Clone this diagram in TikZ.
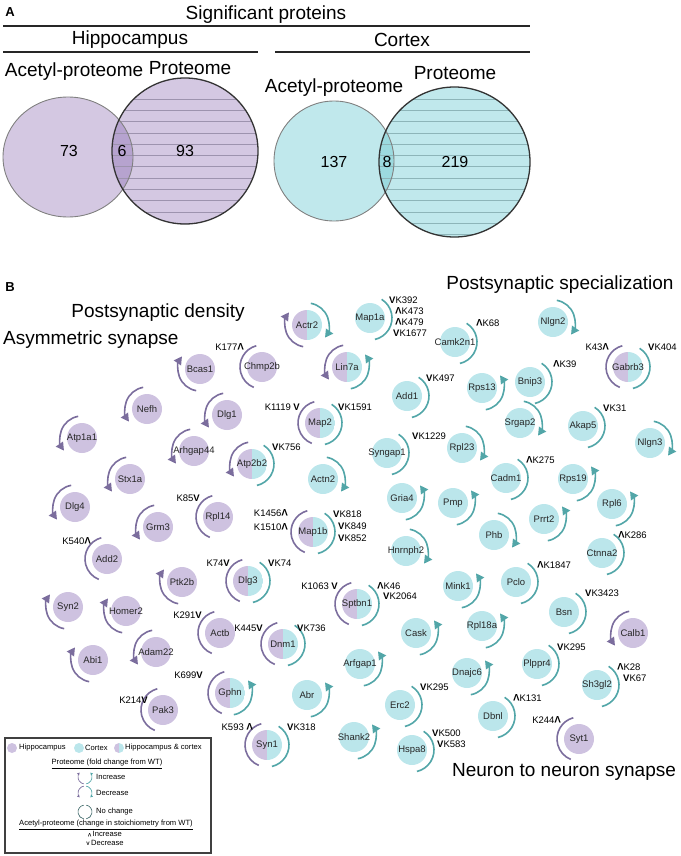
\documentclass[tikz,border=0pt]{standalone}
\usepackage{fontspec}
\setmainfont{Liberation Sans}
\usepackage{graphicx}
\usetikzlibrary{arrows.meta}
\definecolor{hfill}{HTML}{CEC2E0}
\definecolor{cfill}{HTML}{BBE6EB}
\definecolor{harc}{HTML}{7B6D9D}
\definecolor{carc}{HTML}{52A6A8}
\definecolor{vh}{HTML}{D4C8E2}
\definecolor{vho}{HTML}{B6A3CF}
\definecolor{vc}{HTML}{C0E8EC}
\definecolor{vco}{HTML}{9CDADF}
\definecolor{sth}{HTML}{9D93AE}
\definecolor{stc}{HTML}{8DB5B9}
\newcommand\up{\rotatebox[origin=c]{180}{\textbf{V}}}
\newcommand\dn{\textbf{V}}
\newcommand\nm[1]{\makebox[0pt]{#1}}
\newcommand\ArcLinc[1]{\draw[harcs,arrowtip] ([shift={(260:22)}]#1.center) arc[start angle=260,end angle=145,radius=22];}
\newcommand\ArcLdec[1]{\draw[harcs,arrowtip] ([shift={(100:22)}]#1.center) arc[start angle=100,end angle=215,radius=22];}
\newcommand\ArcLno[1]{\draw[harcs] ([shift={(105:22)}]#1.center) arc[start angle=105,end angle=248,radius=22];}
\newcommand\ArcRinc[1]{\draw[carcs,arrowtip] ([shift={(-80:22)}]#1.center) arc[start angle=-80,end angle=35,radius=22];}
\newcommand\ArcRdec[1]{\draw[carcs,arrowtip] ([shift={(80:22)}]#1.center) arc[start angle=80,end angle=-35,radius=22];}
\newcommand\ArcRno[1]{\draw[carcs] ([shift={(58:22)}]#1.center) arc[start angle=58,end angle=-77,radius=22];}
\begin{document}
\begin{tikzpicture}[x=1pt,y=1pt,
  hdr/.style={inner sep=0pt,font=\fontsize{19}{19}\selectfont},
  num/.style={inner sep=0pt,font=\fontsize{16}{16}\selectfont},
  rule/.style={line width=1.1pt,black!85},
  hn/.style={circle,minimum size=30pt,inner sep=0pt,fill=hfill,text=black!85,font=\fontsize{9.5}{10}\selectfont},
  cn/.style={circle,minimum size=30pt,inner sep=0pt,fill=cfill,text=black!85,font=\fontsize{9.5}{10}\selectfont},
  hcn/.style={circle,minimum size=30pt,inner sep=0pt,text=black!85,font=\fontsize{9.5}{10}\selectfont,
    path picture={\fill[hfill] (path picture bounding box.south west) rectangle (path picture bounding box.north);
                  \fill[cfill] (path picture bounding box.south) rectangle (path picture bounding box.north east);}},
  lab/.style={inner sep=0pt,font=\fontsize{9.5}{10}\selectfont},
  harcs/.style={draw=harc,line width=1.6pt},
  carcs/.style={draw=carc,line width=1.6pt},
  arrowtip/.style={-{Triangle[length=8pt,width=8.5pt]}},
  leg/.style={inner sep=0pt,font=\fontsize{7.6}{8}\selectfont},
]
\useasboundingbox (0,0) rectangle (680,-856);

% ---------------- Part A ----------------
\node[font=\bfseries\fontsize{13}{13}\selectfont,inner sep=0pt] (A) at (10,-12) {A};
\node[hdr] (sig) at (266,-15) {Significant proteins};
\draw[rule] (3,-26) -- (530,-26);
\node[hdr] (hip) at (130,-40) {Hippocampus};
\draw[rule] (3,-52) -- (258,-52);
\node[hdr] (ctx) at (402,-40) {Cortex};
\draw[rule] (275,-52) -- (530,-52);

\node[hdr] (acH) at (74,-72) {Acetyl-proteome};
\node[hdr] (prH) at (190,-68) {Proteome};
\node[hdr] (acC) at (334,-88) {Acetyl-proteome};
\node[hdr] (prC) at (455,-73) {Proteome};

% hippocampus Venn
\fill[vh] (68,-157) ellipse [x radius=65,y radius=60];
\fill[vh] (185,-151) ellipse [x radius=73,y radius=73];
\begin{scope}
  \clip (68,-157) ellipse [x radius=65,y radius=60];
  \fill[vho] (185,-151) ellipse [x radius=73,y radius=73];
\end{scope}
\begin{scope}
  \clip (185,-151) ellipse [x radius=73,y radius=73];
  \foreach \k in {0,...,12} \draw[sth,line width=0.8pt] (100,{-99-11.3*\k}) -- (270,{-99-11.3*\k});
\end{scope}
\draw[black!50,line width=0.9pt] (68,-157) ellipse [x radius=65,y radius=60];
\draw[black!80,line width=1.3pt] (185,-151) ellipse [x radius=73,y radius=73];

% cortex Venn
\fill[vc] (334,-161) ellipse [x radius=60,y radius=60];
\fill[vc] (454.5,-162) ellipse [x radius=75.5,y radius=75];
\begin{scope}
  \clip (334,-161) ellipse [x radius=60,y radius=60];
  \fill[vco] (454.5,-162) ellipse [x radius=75.5,y radius=75];
\end{scope}
\begin{scope}
  \clip (454.5,-162) ellipse [x radius=75.5,y radius=75];
  \foreach \k in {0,...,13} \draw[stc,line width=0.8pt] (370,{-99-11.3*\k}) -- (540,{-99-11.3*\k});
\end{scope}
\draw[black!50,line width=0.9pt] (334,-161) ellipse [x radius=60,y radius=60];
\draw[black!80,line width=1.3pt] (454.5,-162) ellipse [x radius=75.5,y radius=75];

\node[num] (n73) at (69,-151) {73};
\node[num] (n6) at (122,-151) {6};
\node[num] (n93) at (185,-151) {93};
\node[num] (n137) at (334,-162) {137};
\node[num] (n8) at (387,-162) {8};
\node[num] (n219) at (455,-162) {219};

% ---------------- Part B ----------------
\node[font=\bfseries\fontsize{13}{13}\selectfont,inner sep=0pt] (B) at (10,-287) {B};
\node[hdr] (psd) at (158,-313) {Postsynaptic density};
\node[hdr,anchor=west] (asy) at (3,-340) {Asymmetric synapse};
\node[hdr] (pss) at (560,-285) {Postsynaptic specialization};
\node[hdr] (nns) at (564,-772) {Neuron to neuron synapse};

% hippocampus nodes
\node[hn] (Chmp2b) at (262,-367) {\nm{Chmp2b}};
\node[hn] (Bcas1) at (200,-369) {\nm{Bcas1}};
\node[hn] (Nefh) at (147,-409) {\nm{Nefh}};
\node[hn] (Dlg1) at (227,-415) {\nm{Dlg1}};
\node[hn] (Atp1a1) at (82,-438) {\nm{Atp1a1}};
\node[hn] (Arhgap44) at (194,-451) {\nm{Arhgap44}};
\node[hn] (Stx1a) at (130,-479) {\nm{Stx1a}};
\node[hn] (Dlg4) at (75,-507) {\nm{Dlg4}};
\node[hn] (Rpl14) at (218,-517) {\nm{Rpl14}};
\node[hn] (Grm3) at (158,-527) {\nm{Grm3}};
\node[hn] (Add2) at (107,-559) {\nm{Add2}};
\node[hn] (Ptk2b) at (182,-582) {\nm{Ptk2b}};
\node[hn] (Syn2) at (68,-607) {\nm{Syn2}};
\node[hn] (Homer2) at (126,-611) {\nm{Homer2}};
\node[hn] (Actb) at (220,-633) {\nm{Actb}};
\node[hn] (Abi1) at (93,-660) {\nm{Abi1}};
\node[hn] (Adam22) at (156,-652) {\nm{Adam22}};
\node[hn] (Pak3) at (163,-710) {\nm{Pak3}};
\node[hn] (Calb1) at (633,-633) {\nm{Calb1}};
\node[hn] (Syt1) at (579,-739) {\nm{Syt1}};

% hippocampus & cortex nodes
\node[hcn] (Actr2) at (307,-325) {\nm{Actr2}};
\node[hcn] (Lin7a) at (347,-367) {\nm{Lin7a}};
\node[hcn] (Map2) at (320,-423) {\nm{Map2}};
\node[hcn] (Atp2b2) at (252,-464) {\nm{Atp2b2}};
\node[hcn] (Map1b) at (313,-532) {\nm{Map1b}};
\node[hcn] (Dlg3) at (248,-581) {\nm{Dlg3}};
\node[hcn] (Sptbn1) at (357,-604) {\nm{Sptbn1}};
\node[hcn] (Dnm1) at (283,-644) {\nm{Dnm1}};
\node[hcn] (Gphn) at (230,-693) {\nm{Gphn}};
\node[hcn] (Syn1) at (267,-745) {\nm{Syn1}};
\node[hcn] (Gabrb3) at (628,-367) {\nm{Gabrb3}};

% cortex nodes
\node[cn] (Map1a) at (370,-318) {\nm{Map1a}};
\node[cn] (Camk2n1) at (455,-342) {\nm{Camk2n1}};
\node[cn] (Nlgn2) at (553,-322) {\nm{Nlgn2}};
\node[cn] (Bnip3) at (530,-382) {\nm{Bnip3}};
\node[cn] (Rps13) at (482,-388) {\nm{Rps13}};
\node[cn] (Add1) at (407,-396) {\nm{Add1}};
\node[cn] (Srgap2) at (520,-423) {\nm{Srgap2}};
\node[cn] (Akap5) at (583,-426) {\nm{Akap5}};
\node[cn] (Nlgn3) at (650,-443) {\nm{Nlgn3}};
\node[cn] (Syngap1) at (387,-453) {\nm{Syngap1}};
\node[cn] (Rpl23) at (462,-448) {\nm{Rpl23}};
\node[cn] (Actn2) at (323,-479) {\nm{Actn2}};
\node[cn] (Cadm1) at (506,-478) {\nm{Cadm1}};
\node[cn] (Rps19) at (573,-479) {\nm{Rps19}};
\node[cn] (Gria4) at (402,-498) {\nm{Gria4}};
\node[cn] (Pmp) at (453,-503) {\nm{Pmp}};
\node[cn] (Rpl6) at (612,-504) {\nm{Rpl6}};
\node[cn] (Prrt2) at (544,-519) {\nm{Prrt2}};
\node[cn] (Phb) at (494,-535) {\nm{Phb}};
\node[cn] (Hnrnph2) at (406,-551) {\nm{Hnrnph2}};
\node[cn] (Ctnna2) at (602,-553) {\nm{Ctnna2}};
\node[cn] (Mink1) at (458,-586) {\nm{Mink1}};
\node[cn] (Pclo) at (516,-582) {\nm{Pclo}};
\node[cn] (Bsn) at (564,-612) {\nm{Bsn}};
\node[cn] (Cask) at (416,-633) {\nm{Cask}};
\node[cn] (Rpl18a) at (482,-626) {\nm{Rpl18a}};
\node[cn] (Arfgap1) at (360,-664) {\nm{Arfgap1}};
\node[cn] (Dnajc6) at (467,-673) {\nm{Dnajc6}};
\node[cn] (Plppr4) at (537,-664) {\nm{Plppr4}};
\node[cn] (Sh3gl2) at (597,-685) {\nm{Sh3gl2}};
\node[cn] (Abr) at (307,-695) {\nm{Abr}};
\node[cn] (Erc2) at (400,-705) {\nm{Erc2}};
\node[cn] (Dbnl) at (493,-716) {\nm{Dbnl}};
\node[cn] (Shank2) at (354,-737) {\nm{Shank2}};
\node[cn] (Hspa8) at (412,-750) {\nm{Hspa8}};

% arcs
\ArcLinc{Actr2}\ArcRdec{Actr2}
\ArcLno{Chmp2b}
\ArcLinc{Bcas1}
\ArcLdec{Nefh}
\ArcLdec{Dlg1}
\ArcLdec{Atp1a1}
\ArcLdec{Arhgap44}
\ArcLdec{Stx1a}
\ArcLdec{Dlg4}
\ArcLno{Rpl14}
\ArcLdec{Grm3}
\ArcLno{Add2}
\ArcLinc{Ptk2b}
\ArcLinc{Syn2}
\ArcLinc{Homer2}
\ArcLno{Actb}
\ArcLinc{Abi1}
\ArcLdec{Adam22}
\ArcLno{Pak3}
\ArcLdec{Calb1}
\ArcLno{Syt1}
\ArcLdec{Lin7a}\ArcRinc{Lin7a}
\ArcLno{Map2}\ArcRno{Map2}
\ArcLdec{Atp2b2}\ArcRno{Atp2b2}
\ArcLno{Map1b}\ArcRno{Map1b}
\ArcLno{Dlg3}\ArcRno{Dlg3}
\ArcLno{Sptbn1}\ArcRno{Sptbn1}
\ArcLno{Dnm1}\ArcRno{Dnm1}
\ArcLno{Gphn}\ArcRinc{Gphn}
\ArcLno{Syn1}\ArcRno{Syn1}
\ArcLno{Gabrb3}\ArcRno{Gabrb3}
\ArcRno{Map1a}
\ArcRno{Camk2n1}
\ArcRdec{Nlgn2}
\ArcRno{Bnip3}
\ArcRinc{Rps13}
\ArcRno{Add1}
\ArcRdec{Srgap2}
\ArcRno{Akap5}
\ArcRdec{Nlgn3}
\ArcRno{Syngap1}
\ArcRdec{Rpl23}
\ArcRdec{Actn2}
\ArcRno{Cadm1}
\ArcRinc{Rps19}
\ArcRinc{Gria4}
\ArcRinc{Pmp}
\ArcRinc{Rpl6}
\ArcRinc{Prrt2}
\ArcRdec{Phb}
\ArcRdec{Hnrnph2}
\ArcRno{Ctnna2}
\ArcRinc{Mink1}
\ArcRno{Pclo}
\ArcRno{Bsn}
\ArcRinc{Cask}
\ArcRinc{Rpl18a}
\ArcRinc{Arfgap1}
\ArcRinc{Dnajc6}
\ArcRno{Plppr4}
\ArcRno{Sh3gl2}
\ArcRinc{Abr}
\ArcRno{Erc2}
\ArcRno{Dbnl}
\ArcRinc{Shank2}
\ArcRno{Hspa8}

% acetylation labels
\node[lab,anchor=east] (kChmp2b) at (244,-347) {K177\up};
\node[lab,anchor=west] (kAtp2b2) at (272,-447) {\dn K756};
\node[lab,anchor=east] (kMap2a) at (300,-407) {K1119 \dn};
\node[lab,anchor=west] (kMap2b) at (338,-407) {\dn K1591};
\node[lab,anchor=west] (kMap1a1) at (389,-300) {\dn K392};
\node[lab,anchor=west] (kMap1a2) at (395,-311) {\up K473};
\node[lab,anchor=west] (kMap1a3) at (395,-322) {\up K479};
\node[lab,anchor=west] (kMap1a4) at (393,-333) {\dn K1677};
\node[lab,anchor=west] (kCamk2n1) at (476,-323) {\up K68};
\node[lab,anchor=east] (kGabrb3a) at (609,-347) {K43\up};
\node[lab,anchor=west] (kGabrb3b) at (648,-347) {\dn K404};
\node[lab,anchor=west] (kBnip3) at (553,-364) {\up K39};
\node[lab,anchor=west] (kAdd1) at (426,-378) {\dn K497};
\node[lab,anchor=west] (kAkap5) at (603,-408) {\dn K31};
\node[lab,anchor=west] (kSyngap1) at (412,-436) {\dn K1229};
\node[lab,anchor=west] (kCadm1) at (526,-460) {\up K275};
\node[lab,anchor=east] (kRpl14) at (200,-498) {K85\dn};
\node[lab,anchor=east] (kMap1b1) at (288,-513) {K1456\up};
\node[lab,anchor=east] (kMap1b2) at (288,-527) {K1510\up};
\node[lab,anchor=west] (kMap1b3) at (333,-514) {\dn K818};
\node[lab,anchor=west] (kMap1b4) at (338,-526) {\dn K849};
\node[lab,anchor=west] (kMap1b5) at (338,-538) {\dn K852};
\node[lab,anchor=east] (kAdd2) at (91,-541) {K540\up};
\node[lab,anchor=west] (kCtnna2) at (618,-535) {\up K286};
\node[lab,anchor=east] (kDlg3a) at (230,-563) {K74\dn};
\node[lab,anchor=west] (kDlg3b) at (268,-563) {\dn K74};
\node[lab,anchor=west] (kPclo) at (537,-565) {\up K1847};
\node[lab,anchor=east] (kSptbn1a) at (338,-586) {K1063 \dn};
\node[lab,anchor=west] (kSptbn1b) at (377,-586) {\up K46};
\node[lab,anchor=west] (kSptbn1c) at (383,-596) {\dn K2064};
\node[lab,anchor=west] (kBsn) at (585,-593) {\dn K3423};
\node[lab,anchor=east] (kActb) at (202,-615) {K291\dn};
\node[lab,anchor=east] (kDnm1a) at (263,-628) {K445\dn};
\node[lab,anchor=west] (kDnm1b) at (297,-628) {\dn K736};
\node[lab,anchor=west] (kPlppr4) at (557,-647) {\dn K295};
\node[lab,anchor=east] (kGphn) at (203,-675) {K699\dn};
\node[lab,anchor=west] (kSh3gl2a) at (617,-667) {\up K28};
\node[lab,anchor=west] (kSh3gl2b) at (623,-678) {\dn K67};
\node[lab,anchor=west] (kErc2) at (420,-687) {\dn K295};
\node[lab,anchor=west] (kDbnl) at (513,-698) {\up K131};
\node[lab,anchor=east] (kPak3) at (148,-700) {K214\dn};
\node[lab,anchor=east] (kSyt1) at (561,-720) {K244\up};
\node[lab,anchor=east] (kSyn1a) at (253,-727) {K593 \up};
\node[lab,anchor=west] (kSyn1b) at (287,-727) {\dn K318};
\node[lab,anchor=west] (kHspa8a) at (432,-733) {\dn K500};
\node[lab,anchor=west] (kHspa8b) at (437,-744) {\dn K583};

% ---------------- Legend ----------------
\draw[black!75,line width=1.1pt] (5,-738) rectangle (211,-853);
\node[circle,fill=hfill,minimum size=10pt,inner sep=0pt] (dH) at (12,-748) {};
\node[leg,anchor=west] (tH) at (19,-748) {Hippocampus};
\node[circle,fill=cfill,minimum size=10pt,inner sep=0pt] (dC) at (79,-748) {};
\node[leg,anchor=west] (tC) at (85,-748) {Cortex};
\node[circle,minimum size=10pt,inner sep=0pt,
  path picture={\fill[hfill] (path picture bounding box.south west) rectangle (path picture bounding box.north);
                \fill[cfill] (path picture bounding box.south) rectangle (path picture bounding box.north east);}] (dHC) at (119,-748) {};
\node[leg,anchor=west] (tHC) at (125,-748) {Hippocampus \& cortex};
\node[leg] (tProt) at (107,-764) {\underline{Proteome (fold change from WT)}};
\coordinate (icI) at (85,-777);
\coordinate (icD) at (85,-793);
\coordinate (icN) at (85,-812);
\draw[harc,line width=0.7pt,-{Triangle[length=2.5pt,width=2.5pt]}] ([shift={(260:7)}]icI) arc[start angle=260,end angle=140,radius=7];
\draw[carc,line width=0.7pt,-{Triangle[length=2.5pt,width=2.5pt]}] ([shift={(-80:7)}]icI) arc[start angle=-80,end angle=40,radius=7];
\draw[harc,line width=0.7pt,-{Triangle[length=2.5pt,width=2.5pt]}] ([shift={(100:7)}]icD) arc[start angle=100,end angle=220,radius=7];
\draw[carc,line width=0.7pt,-{Triangle[length=2.5pt,width=2.5pt]}] ([shift={(80:7)}]icD) arc[start angle=80,end angle=-40,radius=7];
\draw[black!45!carc,line width=0.6pt] ([shift={(100:7)}]icN) arc[start angle=100,end angle=260,radius=7];
\draw[black!45!carc,line width=0.6pt] ([shift={(80:7)}]icN) arc[start angle=80,end angle=-80,radius=7];
\node[leg,anchor=west] (tInc) at (96,-777) {Increase};
\node[leg,anchor=west] (tDec) at (96,-793) {Decrease};
\node[leg,anchor=west] (tNo) at (96,-812) {No change};
\node[leg] (tAc) at (106,-825) {\underline{Acetyl-proteome (change in stoichiometry from WT)}};
\node[leg] (tAI) at (105,-834) {{\fontsize{5}{5}\selectfont\up}\,Increase};
\node[leg] (tAD) at (105,-843) {{\fontsize{5}{5}\selectfont\dn}\,Decrease};
\end{tikzpicture}
\end{document}
